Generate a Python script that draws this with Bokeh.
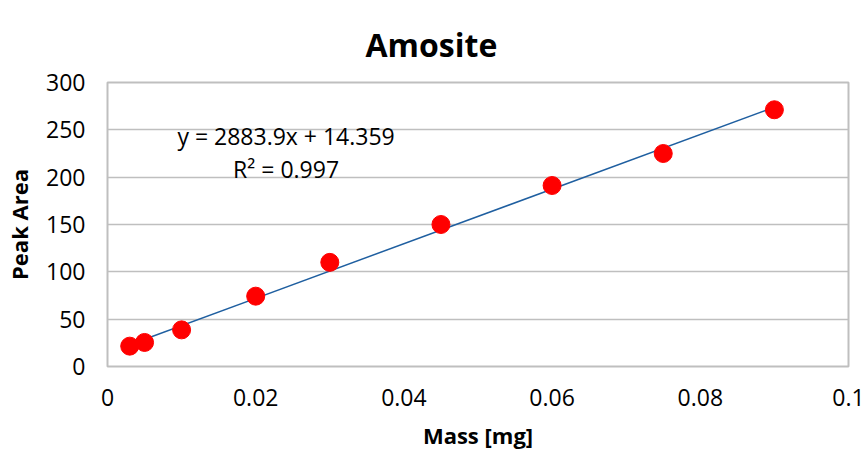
from bokeh.plotting import figure
from bokeh.models import FixedTicker, Label, ColumnDataSource, Range1d
from bokeh.embed import file_html
from bokeh.resources import INLINE

# Data
mass_mg = [0.003, 0.005, 0.01, 0.02, 0.03, 0.045, 0.06, 0.075, 0.09]
peak_area = [21.5, 25.4, 38.7, 74.3, 110.0, 150.0, 191.2, 225.0, 271.2]
slope = 2883.9
intercept = 14.359
r_squared = 0.997
x_ticks = [0, 0.02, 0.04, 0.06, 0.08, 0.1]
x_tick_labels = ["0", "0.02", "0.04", "0.06", "0.08", "0.1"]
y_ticks = [0, 50, 100, 150, 200, 250, 300]
title_text = "Amosite"

FONT = "Open Sans"

p = figure(width=866, height=452, output_backend="svg", toolbar_location=None,
           x_range=Range1d(0, 0.1), y_range=Range1d(0, 300))
p.min_border_left = 107
p.min_border_right = 18
p.min_border_top = 82
p.min_border_bottom = 86

p.title.text = title_text
p.title.align = "left"
p.title.offset = 258
p.title.vertical_align = "bottom"
p.title.text_font = FONT
p.title.text_font_size = "32px"
p.title.text_font_style = "bold"
p.title.text_color = "#000000"
p.title.standoff = 34

p.outline_line_color = "#BFBFBF"
p.outline_line_width = 2

for ax in (p.xaxis[0], p.yaxis[0]):
    ax.axis_line_color = None
    ax.major_tick_line_color = None
    ax.minor_tick_line_color = None
    ax.major_label_text_font = FONT
    ax.major_label_text_font_size = "23px"
    ax.major_label_text_color = "#000000"
    ax.axis_label_text_font = FONT
    ax.axis_label_text_font_style = "bold"
    ax.axis_label_text_font_size = "22px"
    ax.axis_label_text_color = "#000000"

p.xaxis.ticker = FixedTicker(ticks=x_ticks)
p.xaxis.major_label_overrides = {t: l for t, l in zip(x_ticks, x_tick_labels)}
p.xaxis.major_label_standoff = 16
p.xaxis.axis_label = "Mass [mg]"
p.xaxis.axis_label_standoff = 11

p.yaxis.ticker = FixedTicker(ticks=y_ticks)
p.yaxis.major_label_standoff = 16
p.yaxis.axis_label = "Peak Area"
p.yaxis.axis_label_standoff = 9

p.xgrid.grid_line_color = None
p.ygrid.grid_line_color = "#BFBFBF"
p.ygrid.grid_line_width = 1.5

fit_x = [min(mass_mg), max(mass_mg)]
fit_y = [slope * x + intercept for x in fit_x]
p.line(fit_x, fit_y, line_color="#1F5FA0", line_width=1.5)

src = ColumnDataSource(dict(x=mass_mg, y=peak_area))
p.scatter("x", "y", source=src, size=18, fill_color="#FF0000", line_color="#FF0000")

p.add_layout(Label(x=0.0241, y=243, text=f"y = {slope}x + {intercept}",
                   text_align="center", text_baseline="middle",
                   text_font=FONT, text_font_size="23px", text_color="#000000"))
p.add_layout(Label(x=0.0241, y=209, text=f"R² = {r_squared}",
                   text_align="center", text_baseline="middle",
                   text_font=FONT, text_font_size="23px", text_color="#000000"))

open("out.html", "w").write(file_html(p, INLINE))
